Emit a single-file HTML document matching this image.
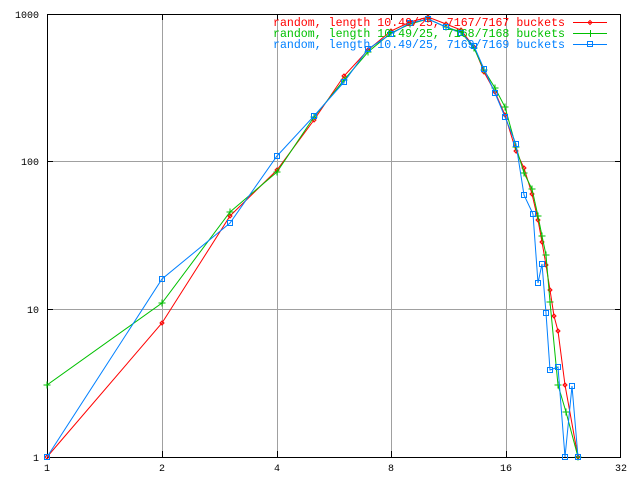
<!DOCTYPE html>
<html><head><style>body{margin:0;background:#fff}svg{display:block}</style></head><body>
<svg width="640" height="480" xmlns="http://www.w3.org/2000/svg" font-family="Liberation Mono, monospace" font-size="11">
<defs>
<marker id="mr" markerUnits="userSpaceOnUse" markerWidth="8" markerHeight="8" refX="4" refY="4" overflow="visible"><path d="M2 4l2-2 2 2-2 2z" fill="none" stroke="#ff0000"/></marker>
<marker id="mg" markerUnits="userSpaceOnUse" markerWidth="8" markerHeight="8" refX="4" refY="4" overflow="visible"><path d="M4 0.5v7M0.5 4h7" fill="none" stroke="#00c000"/></marker>
<marker id="mb" markerUnits="userSpaceOnUse" markerWidth="8" markerHeight="8" refX="4" refY="4" overflow="visible"><rect x="1.5" y="1.5" width="5" height="5" fill="none" stroke="#0080ff"/></marker>
</defs>
<rect width="640" height="480" fill="#fff"/>
<g stroke="#a0a0a0" stroke-width="1">
<line x1="162.5" y1="14" x2="162.5" y2="457"/><line x1="277.5" y1="14" x2="277.5" y2="457"/><line x1="391.5" y1="50" x2="391.5" y2="457"/><line x1="506.5" y1="14" x2="506.5" y2="457"/>
<line x1="391.5" y1="14" x2="391.5" y2="16"/>
<line x1="47" y1="309.5" x2="621" y2="309.5"/><line x1="47" y1="161.5" x2="621" y2="161.5"/>
</g>
<rect x="47.5" y="14.5" width="573" height="443" fill="none" stroke="#000"/>
<g stroke="#000">
<path d="M162.5 457v-6M277.5 457v-6M391.5 457v-6M506.5 457v-6M162.5 14v6M277.5 14v6M391.5 14v6M506.5 14v6M47 309.5h6M47 161.5h6M621 309.5h-6M621 161.5h-6"/>
</g>
<g font-size="10" text-anchor="middle">
<text x="47" y="471">1</text><text x="162" y="471">2</text><text x="277" y="471">4</text><text x="391" y="471">8</text><text x="506" y="471">16</text><text x="621" y="471">32</text>
</g>
<g font-size="10" text-anchor="end">
<text x="39" y="461">1</text><text x="39" y="313">10</text><text x="39" y="165">100</text><text x="39" y="18">1000</text>
</g>
<g fill="none" stroke-width="1">
<polyline stroke="#ff0000" marker-start="url(#mr)" marker-mid="url(#mr)" marker-end="url(#mr)" points="47,457 162,323 230,216 277,170 314,120 344,76 368,50 391,31 410,22 428,17 446,24 461,30 474,47 484,72 495,92 505,115 516,151 524,168 532,194 538,220 542,242 546,265 550,290 554,316 558,331 565,385 578,457"/>
<polyline stroke="#00c000" marker-start="url(#mg)" marker-mid="url(#mg)" marker-end="url(#mg)" points="47,385 162,303 230,212 277,172 314,117 344,80 368,52 391,33 410,24 428,19 446,27 461,32 474,48 484,70 495,88 505,107 516,147 524,173 532,189 538,216 542,236 546,255 550,302 558,385 566,412 578,457"/>
<polyline stroke="#0080ff" marker-start="url(#mb)" marker-mid="url(#mb)" marker-end="url(#mb)" points="47,457 162,279 230,223 277,156 314,116 344,82 368,49 391,34 410,23 428,19 446,27 461,33 474,46 484,69 495,93 505,117 516,144 524,195 533,214 538,283 542,264 546,313 550,370 558,367 565,457 572,386 578,457"/>
</g>
<text x="273" y="26" fill="#ff0000" textLength="292" lengthAdjust="spacingAndGlyphs" font-size="12">random, length 10.49/25, 7167/7167 buckets</text>
<text x="273" y="37" fill="#00c000" textLength="292" lengthAdjust="spacingAndGlyphs" font-size="12">random, length 10.49/25, 7168/7168 buckets</text>
<text x="273" y="48" fill="#0080ff" textLength="292" lengthAdjust="spacingAndGlyphs" font-size="12">random, length 10.49/25, 7169/7169 buckets</text>
<line x1="573" y1="22.5" x2="607" y2="22.5" stroke="#ff0000"/><path d="M588 22.5l2-2 2 2-2 2z" fill="none" stroke="#ff0000"/>
<line x1="573" y1="33.5" x2="607" y2="33.5" stroke="#00c000"/><path d="M590.5 30v7M587 33.5h7" stroke="#00c000"/>
<line x1="573" y1="44.5" x2="607" y2="44.5" stroke="#0080ff"/><rect x="587.5" y="41.5" width="5" height="5" fill="none" stroke="#0080ff"/>
</svg>
</body></html>
